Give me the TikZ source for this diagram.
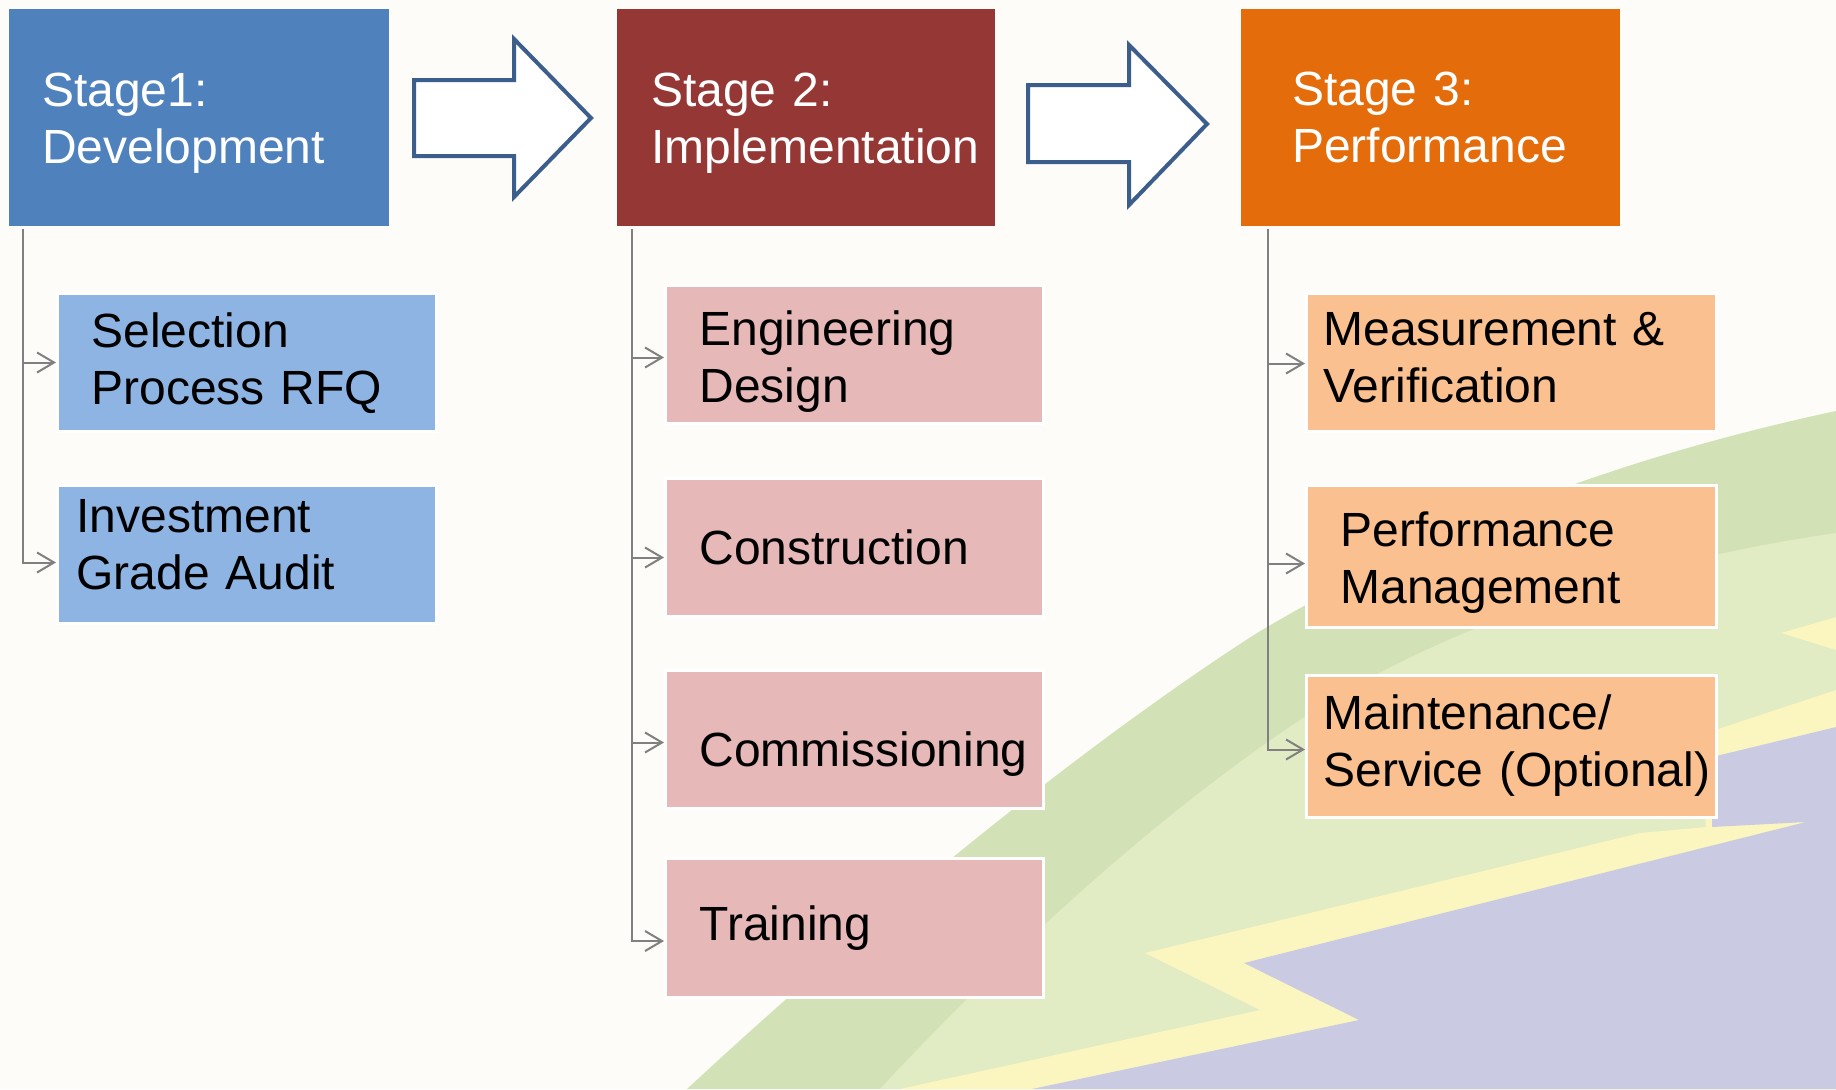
\documentclass[tikz,border=0pt]{standalone}
\usepackage{fontspec}
\setmainfont{Liberation Sans}
\usetikzlibrary{calc,arrows.meta}
\definecolor{bgcream}{HTML}{FDFCF8}
\definecolor{swooshdark}{HTML}{D2E2B6}
\definecolor{swooshlight}{HTML}{E1EBC4}
\definecolor{boltyellow}{HTML}{FBF5C0}
\definecolor{lowpurple}{HTML}{CACBE3}
\definecolor{devblue}{HTML}{4F81BD}
\definecolor{implred}{HTML}{953735}
\definecolor{perforange}{HTML}{E46C0A}
\definecolor{devlight}{HTML}{8EB4E3}
\definecolor{impllight}{HTML}{E6B9B8}
\definecolor{perflight}{HTML}{FAC090}
\definecolor{arrowblue}{HTML}{3B5E8C}
\definecolor{linkgray}{HTML}{808080}
\tikzset{
  stage/.style={rectangle, anchor=north west, fill=#1, text=white, align=left,
    inner ysep=0pt, minimum height=217bp, font=\fontsize{48bp}{57bp}\selectfont},
  task/.style={rectangle, anchor=north west, fill=#1, draw=white, line width=3bp,
    align=left, inner ysep=0pt, font=\fontsize{48bp}{57bp}\selectfont},
  link/.style={draw=linkgray, line width=2bp, -{Straight Barb[length=17bp,width=20bp]}},
  bigarrow/.style={draw=arrowblue, fill=white, line width=4bp},
}

\begin{document}
\begin{tikzpicture}[x=1bp,y=-1bp]
\fill [bgcream] (0,0) rectangle (1836,1089);
\fill [swooshdark] (687,1089) .. controls (880,910) and (1090,740) .. (1257,633)
  .. controls (1380,560) and (1560,470) .. (1836,411) -- (1836,1089) -- cycle;
\fill [swooshlight] (880,1089) .. controls (1000,960) and (1150,820) .. (1300,720)
  .. controls (1450,620) and (1650,560) .. (1836,533) -- (1836,1089) -- cycle;
\fill [boltyellow] (1836,617) -- (1781,633) -- (1836,650) -- cycle;
\fill [boltyellow] (1836,690) -- (1700,735) -- (1706,827) -- (1640,833) -- (1145,953)
  -- (1260,1010) -- (900,1089) -- (1836,1089) -- cycle;
\fill [lowpurple] (1836,727) -- (1712,757) -- (1712,827) -- (1806,822) -- (1244,963)
  -- (1359,1020) -- (1032,1089) -- (1836,1089) -- cycle;

\node [stage=devblue, inner xsep=33bp, text width=314bp, text depth=56bp] (dev) at (9,9) {Stage1:\\Development};
\node [stage=implred, inner xsep=34bp, text width=310bp, text depth=56bp] (impl) at (617,9) {Stage 2:\\Implementation};
\node [stage=perforange, inner xsep=51bp, text width=277bp] (perf) at (1241,9) {Stage 3:\\Performance};

\draw [bigarrow] (414,80) -- (514,80) -- (514,39) -- (591,118) -- (514,197) -- (514,156) -- (414,156) -- cycle;
\draw [bigarrow] (1028,85) -- (1129,85) -- (1129,45) -- (1207,124) -- (1129,205) -- (1129,162) -- (1028,162) -- cycle;

\node [task=devlight, inner xsep=34bp, text width=311bp, minimum height=138bp, text depth=64bp] (rfq) at (56,292) {Selection\\Process RFQ};
\node [task=devlight, inner xsep=19bp, text width=341bp, minimum height=138bp, text depth=78bp] (iga) at (56,484) {Investment\\Grade Audit};

\node [task=impllight, inner xsep=34bp, text width=310bp, minimum height=138bp, text depth=53bp] (eng) at (664,284) {Engineering\\Design};
\node [task=impllight, inner xsep=34bp, text width=310bp, minimum height=138bp] (con) at (664,477) {Construction};
\node [task=impllight, inner xsep=34bp, text width=310bp, minimum height=138bp, text height=63bp, text depth=10bp] (com) at (664,669) {Commissioning};
\node [task=impllight, inner xsep=34bp, text width=310bp, minimum height=139bp] (trn) at (664,857) {Training};

\node [task=perflight, inner xsep=17bp, text width=376bp, minimum height=138bp, text depth=67bp] (mv) at (1305,292) {Measurement \&\\Verification};
\node [task=perflight, inner xsep=34bp, text width=342bp, minimum height=142bp, text depth=55bp] (pm) at (1305,484) {Performance\\Management};
\node [task=perflight, inner xsep=17bp, text width=376bp, minimum height=142bp, text depth=69bp] (ms) at (1305,674) {Maintenance/\\\mbox{Service (Optional)}};

\coordinate (devtrunk) at ($(dev.south west)+(14,3)$);
\coordinate (impltrunk) at ($(impl.south west)+(15,3)$);
\coordinate (perftrunk) at ($(perf.south west)+(27,3)$);

\draw [link] (devtrunk) |- (rfq.west);
\draw [link] (devtrunk) |- ($(iga.west)+(0,8)$);
\draw [link] (impltrunk) |- ($(eng.west)+(0,3)$);
\draw [link] (impltrunk) |- ($(con.west)+(0,10)$);
\draw [link] (impltrunk) |- ($(com.west)+(0,3)$);
\draw [link] (impltrunk) |- ($(trn.west)+(0,13)$);
\draw [link] (perftrunk) |- ($(mv.west)+(0,1)$);
\draw [link] (perftrunk) |- ($(pm.west)+(0,7)$);
\draw [link] (perftrunk) |- ($(ms.west)+(0,3)$);
\end{tikzpicture}
\end{document}
